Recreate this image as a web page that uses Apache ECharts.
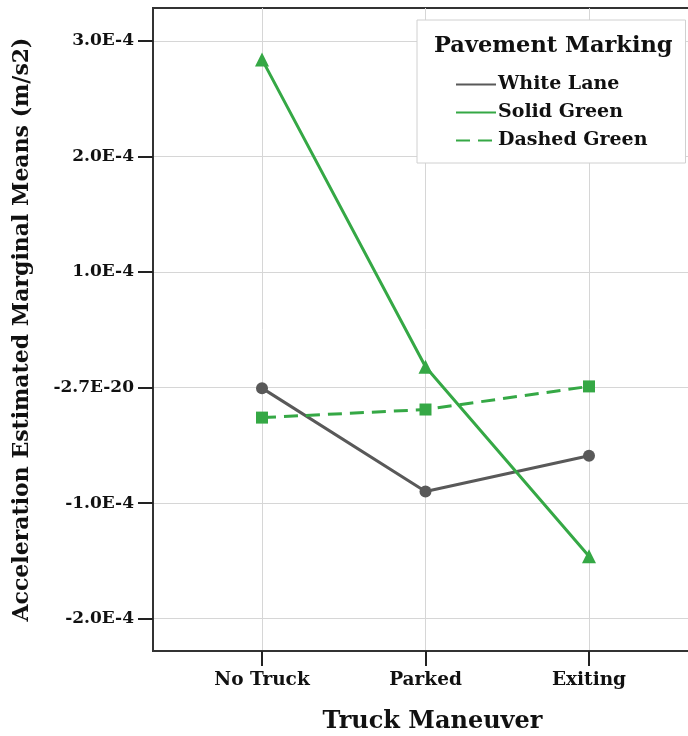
<!DOCTYPE html>
<html>
<head>
<meta charset="utf-8">
<title>Truck Maneuver</title>
<script src="https://cdn.jsdelivr.net/npm/echarts@6/dist/echarts.min.js"></script>
<style>
	html, body { margin: 0; padding: 0; background: #fff; }
	#chart { width: 688px; height: 736px; }
</style>
</head>
<body>
<div id="chart"></div>
<script>
// 数据
var categories = ['No Truck', 'Parked', 'Exiting'];
var whiteLane = [-0.005e-4, -0.90e-4, -0.59e-4];
var solidGreen = [2.84e-4, 0.18e-4, -1.46e-4];
var dashedGreen = [-0.26e-4, -0.19e-4, 0.01e-4];
var yTicks = [-2e-4, -1e-4, 0, 1e-4, 2e-4, 3e-4];
var xTicks = [0, 1, 2];

var font = 'DejaVu Serif';
var gray = '#595959';
var green = '#35a845';

function pts(arr) {
	return arr.map(function(v, i) { return [i, v]; });
}

var myChart = echarts.init(document.getElementById('chart'));
var option = {
	animation: false,
	title: {
		text: 'Pavement Marking',
		left: 429,
		top: 30,
		textStyle: { fontFamily: font, fontWeight: 'bold', fontSize: 22.5, color: '#111' }
	},
	legend: {
		orient: 'vertical',
		left: 417,
		top: 20,
		padding: [55, 38, 13, 38],
		itemWidth: 40,
		itemHeight: 14,
		itemGap: 9,
		backgroundColor: '#fff',
		borderColor: '#d0d0d0',
		borderWidth: 1,
		itemStyle: { opacity: 0 },
		textStyle: { fontFamily: font, fontWeight: 'bold', fontSize: 19, color: '#111', padding: [0, 0, 0, -3] },
		data: ['White Lane', 'Solid Green', 'Dashed Green']
	},
	grid: {
		left: 153,
		top: 8,
		right: -10,
		bottom: 85,
		outerBoundsMode: 'none',
		show: true,
		borderColor: '#333',
		borderWidth: 2
	},
	xAxis: {
		type: 'value',
		min: -2 / 3,
		max: 8 / 3,
		name: 'Truck Maneuver',
		nameLocation: 'middle',
		nameGap: 59,
		nameTextStyle: { fontFamily: font, fontWeight: 'bold', fontSize: 24, color: '#111', padding: [0, 0, 0, 14] },
		axisLine: { onZero: false, lineStyle: { color: '#333', width: 2 } },
		axisTick: { customValues: xTicks, length: 15, lineStyle: { color: '#222', width: 2 } },
		axisLabel: {
			customValues: xTicks,
			margin: 20,
			fontFamily: font, fontWeight: 'bold', fontSize: 18.5, color: '#111',
			formatter: function(v) { return categories[Math.round(v)] || ''; }
		},
		splitLine: { show: true, lineStyle: { color: '#d6d6d6', width: 1 } }
	},
	yAxis: {
		type: 'value',
		min: -2.28e-4,
		max: 3.285e-4,
		name: 'Acceleration Estimated Marginal Means (m/s2)',
		nameLocation: 'middle',
		nameGap: 120,
		nameTextStyle: { fontFamily: font, fontWeight: 'bold', fontSize: 22, color: '#111' },
		axisLine: { show: true, onZero: false, lineStyle: { color: '#333', width: 2 } },
		axisTick: { show: true, customValues: yTicks, length: 15, lineStyle: { color: '#222', width: 2 } },
		axisLabel: {
			customValues: yTicks,
			margin: 19,
			fontFamily: font, fontWeight: 'bold', fontSize: 17, color: '#111',
			formatter: function(v) {
				if (Math.abs(v) < 1e-12) return '-2.7E-20';
				return (v / 1e-4).toFixed(1) + 'E-4';
			}
		},
		splitLine: { show: true, lineStyle: { color: '#d6d6d6', width: 1 } }
	},
	series: [{
		name: 'White Lane',
		type: 'line',
		data: pts(whiteLane),
		symbol: 'circle',
		symbolSize: 12,
		color: gray,
		lineStyle: { color: gray, width: 3 },
		itemStyle: { color: gray }
	}, {
		name: 'Solid Green',
		type: 'line',
		data: pts(solidGreen),
		symbol: 'triangle',
		symbolSize: 14,
		color: green,
		lineStyle: { color: green, width: 3 },
		itemStyle: { color: green }
	}, {
		name: 'Dashed Green',
		type: 'line',
		data: pts(dashedGreen),
		symbol: 'rect',
		symbolSize: 12,
		color: green,
		lineStyle: { color: green, width: 3, type: [14, 8] },
		itemStyle: { color: green }
	}]
};

myChart.setOption(option);
</script>
</body>
</html>
